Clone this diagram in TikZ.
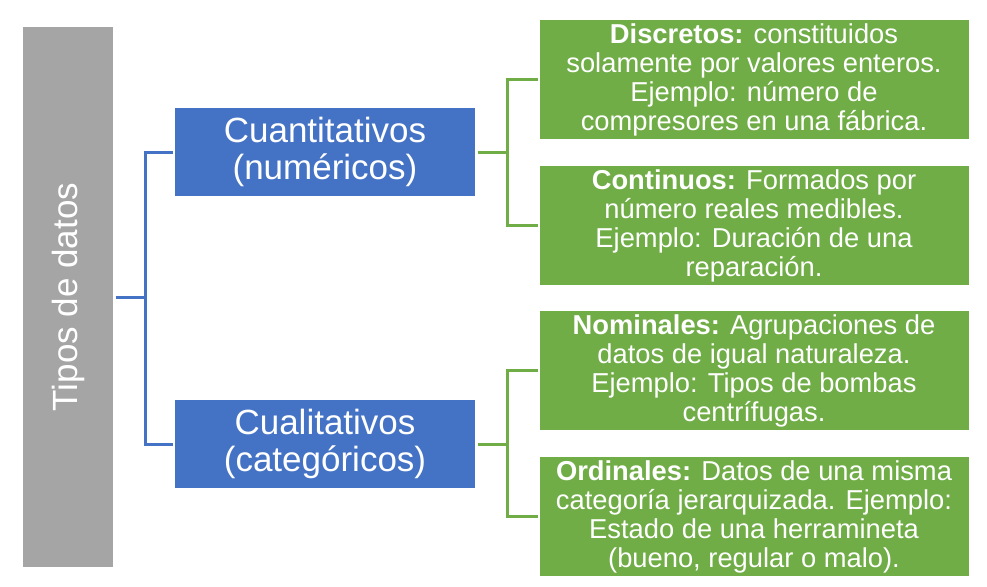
\documentclass[tikz,border=0pt]{standalone}
\usepackage{fontspec}
\setmainfont{Liberation Sans}
\usepackage{tikz}
\usetikzlibrary{positioning,calc}
\definecolor{grisbox}{HTML}{A5A5A5}
\definecolor{azulbox}{HTML}{4472C4}
\definecolor{verdebox}{HTML}{70AD47}
\tikzset{raiz/.style={rectangle, fill=grisbox, text=white, inner sep=0pt, outer sep=0pt, minimum width=405pt, minimum height=67.5pt, font=\fontsize{26.25pt}{27.75pt}\selectfont},
tipo/.style={rectangle, fill=azulbox, text=white, inner sep=0pt, outer sep=0pt, minimum width=225pt, minimum height=66pt, align=center, font=\fontsize{26.25pt}{27.75pt}\selectfont, execute at begin node=\rule{0pt}{23.5pt}},
sub/.style={rectangle, fill=verdebox, text=white, inner sep=0pt, outer sep=0pt, minimum width=321.75pt, minimum height=89.25pt, align=center, font=\fontsize{20.5pt}{21.75pt}\selectfont, execute at begin node=\rule{0pt}{19.5pt}},
rama/.style={line width=2.25pt, shorten <=2pt, shorten >=1.5pt}}

\begin{document}
\begin{tikzpicture}[x=0.75pt,y=-0.75pt]
		\useasboundingbox (0,0) rectangle (987,586);
		\node[raiz,rotate=90] (tipos) at (68,297) {Tipos de datos};
		\node[tipo] (cuant) at (325,152) {Cuantitativos\\(numéricos)};
		\node[tipo] (cual) at (325,444) {Cualitativos\\(categóricos)};
		\node[sub] (disc) at (754,79.5) {\textbf{Discretos:} constituidos\\solamente por valores enteros.\\Ejemplo: número de\\compresores en una fábrica.};
		\node[sub] (cont) at (754,225.5) {\textbf{Continuos:} Formados por\\número reales medibles.\\Ejemplo: Duración de una\\reparación.};
		\node[sub] (nom) at (754,370.5) {\textbf{Nominales:} Agrupaciones de\\datos de igual naturaleza.\\Ejemplo: Tipos de bombas\\centrífugas.};
		\node[sub] (ord) at (754,516.5) {\textbf{Ordinales:} Datos de una misma\\categoría jerarquizada. Ejemplo:\\Estado de una herramineta\\(bueno, regular o malo).};
		% conectores
		\draw[rama,azulbox] (tipos.south) -- ++(32,0) |- (cuant.west);
		\draw[rama,azulbox] (tipos.south) -- ++(32,0) |- (cual.west);
		\draw[rama,verdebox] (cuant.east) -- ++(32,0) |- (disc.west);
		\draw[rama,verdebox] (cuant.east) -- ++(32,0) |- (cont.west);
		\draw[rama,verdebox] (cual.east) -- ++(32,0) |- (nom.west);
		\draw[rama,verdebox] (cual.east) -- ++(32,0) |- (ord.west);
\end{tikzpicture}
\end{document}
